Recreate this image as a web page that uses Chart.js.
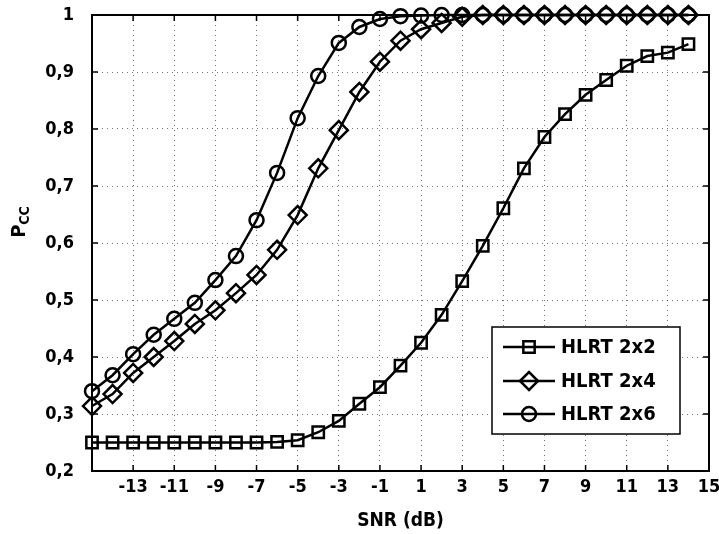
<!DOCTYPE html>
<html>
<head>
<meta charset="utf-8">
<script src="https://cdn.jsdelivr.net/npm/chart.js@4.4.1/dist/chart.umd.min.js"></script>
<style>
  body { margin: 0; background: #fff; }
  #wrap { width: 719px; height: 534px; }
</style>
</head>
<body>
<div id="wrap"><canvas id="c"></canvas></div>
<script>
const snr = [-15, -14, -13, -12, -11, -10, -9, -8, -7, -6, -5, -4, -3, -2, -1,
  0, 1, 2, 3, 4, 5, 6, 7, 8, 9, 10, 11, 12, 13, 14];
const pcc2x2 = [0.25, 0.25, 0.25, 0.25, 0.25, 0.25, 0.25, 0.25, 0.25, 0.251,
  0.254, 0.268, 0.288, 0.318, 0.347, 0.385, 0.425, 0.474, 0.533, 0.595,
  0.661, 0.731, 0.786, 0.826, 0.86, 0.886, 0.911, 0.928, 0.934, 0.949];
const pcc2x4 = [0.314, 0.335, 0.372, 0.4, 0.428, 0.458, 0.482, 0.512, 0.544, 0.588,
  0.649, 0.731, 0.798, 0.865, 0.918, 0.955, 0.975, 0.986, 0.997, 1,
  1, 1, 1, 1, 1, 1, 1, 1, 1, 1];
const pcc2x6 = [0.34, 0.368, 0.405, 0.439, 0.467, 0.495, 0.535, 0.577, 0.64, 0.723,
  0.819, 0.893, 0.951, 0.979, 0.993, 0.998, 0.999, 1, 1, 1,
  1, 1, 1, 1, 1, 1, 1, 1, 1, 1];
const seriesNames = ['HLRT 2x2', 'HLRT 2x4', 'HLRT 2x6'];
const xTitle = 'SNR (dB)';

const FONT = "'DejaVu Sans Condensed', 'DejaVu Sans', sans-serif";

function pts(ys) {
  return snr.map((x, i) => ({ x: x, y: ys[i] }));
}

function ds(label, ys, style, r) {
  return {
    label: label,
    data: pts(ys),
    borderColor: '#000',
    borderWidth: 2.5,
    pointStyle: style,
    pointRadius: r,
    pointHoverRadius: r,
    pointBorderWidth: 2.5,
    pointBorderColor: '#000',
    pointBackgroundColor: 'rgba(0,0,0,0)',
    tension: 0,
    clip: false
  };
}

// frame, inner tick marks, axis titles and the boxed legend
const matlabLook = {
  id: 'matlabLook',
  beforeDatasetsDraw(chart) {
    const { ctx, chartArea: a, scales } = chart;
    ctx.save();
    ctx.strokeStyle = '#000';
    ctx.lineWidth = 2;
    ctx.strokeRect(a.left, a.top, a.right - a.left, a.bottom - a.top);
    ctx.lineWidth = 1.5;
    ctx.beginPath();
    scales.x.ticks.forEach(t => {
      const px = scales.x.getPixelForValue(t.value);
      ctx.moveTo(px, a.bottom); ctx.lineTo(px, a.bottom - 6);
      ctx.moveTo(px, a.top); ctx.lineTo(px, a.top + 6);
    });
    scales.y.ticks.forEach(t => {
      const py = scales.y.getPixelForValue(t.value);
      ctx.moveTo(a.left, py); ctx.lineTo(a.left + 6, py);
      ctx.moveTo(a.right, py); ctx.lineTo(a.right - 6, py);
    });
    ctx.stroke();
    ctx.restore();
  },
  afterDraw(chart) {
    const { ctx, chartArea: a } = chart;
    ctx.save();
    ctx.fillStyle = '#000';
    // x title
    ctx.font = 'bold 19px ' + FONT;
    ctx.textAlign = 'center';
    ctx.textBaseline = 'middle';
    ctx.fillText(xTitle, (a.left + a.right) / 2, 521);
    // y title P_CC
    ctx.translate(17, 222);
    ctx.rotate(-Math.PI / 2);
    ctx.textAlign = 'left';
    ctx.textBaseline = 'alphabetic';
    ctx.font = 'bold 20px ' + FONT;
    const wP = ctx.measureText('P').width;
    const wCC = (ctx.font = 'bold 14px ' + FONT, ctx.measureText('CC').width);
    const start = -(wP + wCC) / 2;
    ctx.font = 'bold 20px ' + FONT;
    ctx.fillText('P', start, 8);
    ctx.font = 'bold 14px ' + FONT;
    ctx.fillText('CC', start + wP, 12);
    ctx.restore();

    // legend box
    const bx = 492, by = 327, bw = 188, bh = 107;
    ctx.save();
    ctx.fillStyle = '#fff';
    ctx.fillRect(bx, by, bw, bh);
    ctx.strokeStyle = '#000';
    ctx.lineWidth = 1.5;
    ctx.strokeRect(bx, by, bw, bh);
    const rows = [347, 381, 414];
    chart.data.datasets.forEach((d, i) => {
      const y = rows[i];
      ctx.strokeStyle = '#000';
      ctx.lineWidth = 2.5;
      ctx.beginPath();
      ctx.moveTo(503, y); ctx.lineTo(555, y);
      ctx.stroke();
      ctx.fillStyle = 'rgba(0,0,0,0)';
      Chart.helpers.drawPoint(ctx, {
        pointStyle: d.pointStyle, radius: d.pointRadius, rotation: 0, borderWidth: 2.5
      }, 529, y);
      ctx.fillStyle = '#000';
      ctx.font = 'bold 20px ' + FONT;
      ctx.textAlign = 'left';
      ctx.textBaseline = 'middle';
      ctx.fillText(d.label, 561, y + 1);
    });
    ctx.restore();
  }
};

new Chart(document.getElementById('c'), {
  type: 'line',
  data: {
    datasets: [
      ds(seriesNames[0], pcc2x2, 'rect', 8),
      ds(seriesNames[1], pcc2x4, 'rectRot', 9),
      ds(seriesNames[2], pcc2x6, 'circle', 7)
    ]
  },
  options: {
    responsive: true,
    maintainAspectRatio: false,
    animation: false,
    layout: { autoPadding: false, padding: { top: 15, right: 10, left: 0, bottom: 0 } },
    plugins: { legend: { display: false }, tooltip: { enabled: false } },
    scales: {
      x: {
        type: 'linear',
        min: -15,
        max: 15,
        ticks: {
          stepSize: 2,
          padding: 6,
          color: '#000',
          font: { family: FONT, size: 18, weight: 'bold' },
          maxRotation: 0,
          autoSkip: false,
          callback: v => (v === -15 ? '' : String(v))
        },
        grid: { color: 'rgba(0,0,0,0.55)', lineWidth: 1, drawTicks: false, tickLength: 0 },
        border: { display: false, dash: [1, 4] },
        afterFit(s) { s.height = 63; s.paddingLeft = 0; s.paddingRight = 0; }
      },
      y: {
        min: 0.2,
        max: 1,
        ticks: {
          stepSize: 0.1,
          padding: 18,
          color: '#000',
          font: { family: FONT, size: 18, weight: 'bold' },
          callback: v => (Math.abs(v - 1) < 1e-9 ? '1' : v.toFixed(1).replace('.', ','))
        },
        grid: { color: 'rgba(0,0,0,0.55)', lineWidth: 1, drawTicks: false, tickLength: 0 },
        border: { display: false, dash: [1, 4] },
        afterFit(s) { s.width = 92; s.paddingTop = 0; s.paddingBottom = 0; }
      }
    }
  },
  plugins: [matlabLook]
});
</script>
</body>
</html>
